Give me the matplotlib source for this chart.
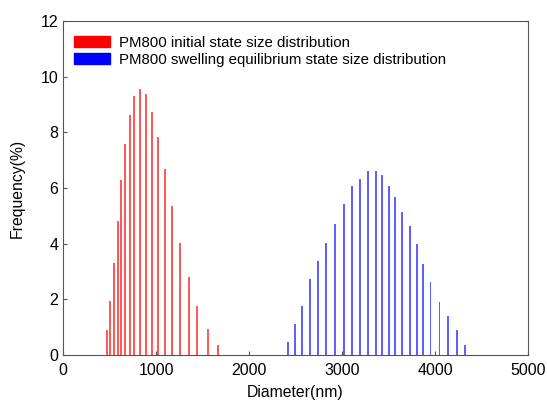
import matplotlib
matplotlib.use("Agg")
import matplotlib.pyplot as plt
from matplotlib.patches import Patch

plt.rcParams['font.family'] = ['Liberation Sans', 'DejaVu Sans']

red_x = [470, 509, 548, 588, 624, 667, 724, 767, 825, 892, 953, 1025, 1100,
         1172, 1258, 1352, 1441, 1556, 1663]
red_y = [0.91, 1.95, 3.29, 4.81, 6.28, 7.59, 8.62, 9.29, 9.54, 9.36, 8.74,
         7.83, 6.67, 5.36, 4.04, 2.81, 1.76, 0.95, 0.36]

blue_x = [2419, 2498, 2573, 2656, 2745, 2828, 2921, 3018, 3108, 3197, 3283,
          3366, 3427, 3502, 3567, 3642, 3728, 3803, 3868, 3952, 4048, 4140,
          4233, 4323]
blue_y = [0.48, 1.10, 1.77, 2.72, 3.39, 4.01, 4.71, 5.42, 6.07, 6.33, 6.60,
          6.60, 6.46, 6.09, 5.69, 5.12, 4.63, 3.98, 3.26, 2.61, 1.91, 1.40,
          0.90, 0.36]

labels = ["PM800 initial state size distribution",
          "PM800 swelling equilibrium state size distribution"]

fig = plt.figure(figsize=(5.47, 4.08), dpi=100)
ax = fig.add_axes([0.1152, 0.1299, 0.8501, 0.8186])

ax.bar(red_x, red_y, width=20, color='#ff5a5a', linewidth=0)
ax.bar(blue_x, blue_y, width=20, color='#6060ff', linewidth=0)

ax.set_xlim(0, 5000)
ax.set_ylim(0, 12)
ax.set_xticks(range(0, 5001, 1000))
ax.set_yticks(range(0, 13, 2))
ax.tick_params(direction='in', length=3, labelsize=11.5, color='#555555')
ax.tick_params(axis='x', pad=6)
for s in ax.spines.values():
    s.set_color('#555555')
ax.set_xlabel("Diameter(nm)", fontsize=11.3, labelpad=5)
ax.set_ylabel("Frequency(%)", fontsize=11.3, labelpad=11)

handles = [Patch(color='red'), Patch(color='blue')]
ax.legend(handles, labels, loc='upper left', bbox_to_anchor=(-0.009, 1.0),
          frameon=False, fontsize=10.8,
          handlelength=2.4, handleheight=0.75, handletextpad=0.6,
          labelspacing=0.2, borderaxespad=0.7, borderpad=0.3)

fig.savefig("out.png", dpi=100)
